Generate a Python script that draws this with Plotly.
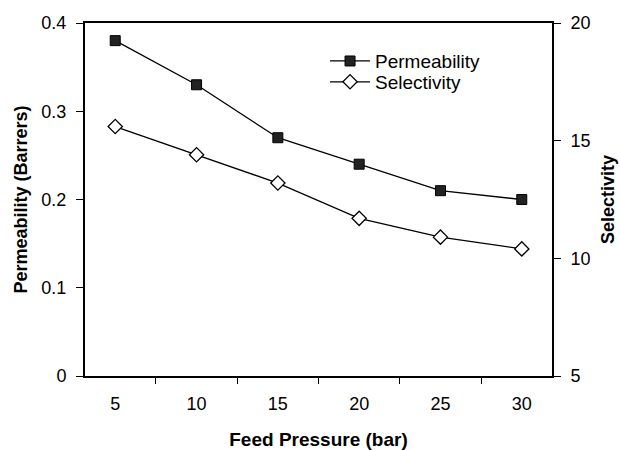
import plotly.graph_objects as go

pressure = ["5", "10", "15", "20", "25", "30"]
permeability = [0.38, 0.33, 0.27, 0.24, 0.21, 0.20]
selectivity = [15.6, 14.4, 13.2, 11.7, 10.9, 10.4]

FONT = "Liberation Sans, Arial, sans-serif"

fig = go.Figure()
fig.add_trace(go.Scatter(
    x=pressure, y=permeability, name="Permeability", mode="lines+markers",
    line=dict(color="black", width=1.3),
    marker=dict(symbol="square", size=10, color="#222222", line=dict(color="black", width=1)),
    yaxis="y", legend="legend"))
fig.add_trace(go.Scatter(
    x=pressure, y=selectivity, name="Selectivity", mode="lines+markers",
    line=dict(color="black", width=1.3),
    marker=dict(symbol="diamond", size=11, color="white", line=dict(color="black", width=1.3)),
    yaxis="y2", legend="legend2"))

leg_common = dict(xanchor="left", yanchor="middle", bgcolor="rgba(0,0,0,0)",
                  font=dict(size=19, family=FONT), itemwidth=40)

fig.update_layout(
    width=620, height=450,
    margin=dict(l=85, r=68, t=23, b=74),
    paper_bgcolor="white", plot_bgcolor="white",
    font=dict(family=FONT, size=18, color="black"),
    showlegend=True,
    legend=dict(x=0.514, y=0.892, **leg_common),
    legend2=dict(x=0.514, y=0.833, **leg_common),
    xaxis=dict(
        type="category", showgrid=False, zeroline=False, automargin=False,
        showline=True, linecolor="black", linewidth=2, mirror=True,
        ticks="outside", ticklen=6, tickcolor="black", tickson="boundaries",
        tickfont=dict(size=18, family=FONT), ticklabelstandoff=10,
        title=dict(text="<b>Feed Pressure (bar)</b>", font=dict(size=19, family=FONT), standoff=20),
    ),
    yaxis=dict(
        range=[0, 0.4], dtick=0.1, showgrid=False, zeroline=False, automargin=False,
        showline=True, linecolor="black", linewidth=2,
        ticks="outside", ticklen=7, tickcolor="black",
        tickfont=dict(size=18, family=FONT), tickformat="~g", ticklabelstandoff=6,
        title=dict(text="<b>Permeability (Barrers)</b>", font=dict(size=18, family=FONT), standoff=9),
    ),
    yaxis2=dict(
        range=[5, 20], dtick=5, overlaying="y", side="right",
        showgrid=False, zeroline=False, automargin=False,
        showline=True, linecolor="black", linewidth=2,
        ticks="outside", ticklen=7, tickcolor="black",
        tickfont=dict(size=18, family=FONT), ticklabelstandoff=6,
        title=dict(text="<b>Selectivity</b>", font=dict(size=18, family=FONT), standoff=12),
    ),
)

fig.write_html("out.html")
